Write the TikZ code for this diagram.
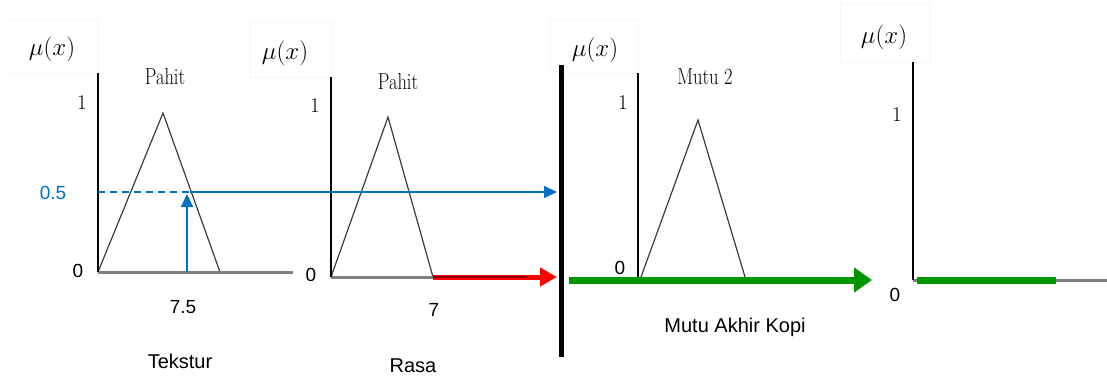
\documentclass[tikz,border=0pt]{standalone}
\usepackage{fontspec}
\setsansfont{Liberation Sans}
\usetikzlibrary{arrows.meta}
\definecolor{cblue}{RGB}{0,112,192}
\definecolor{cgreen}{RGB}{0,150,0}
\definecolor{cdred}{RGB}{150,0,0}
\definecolor{caxis}{RGB}{128,128,128}
\definecolor{ctri}{RGB}{60,60,60}
\begin{document}
\begin{tikzpicture}[x=1pt,y=-1pt,
  num/.style={inner sep=0pt,font=\fontsize{19}{19}\selectfont\sffamily},
  caplabel/.style={inner sep=0pt,font=\fontsize{20}{20}\selectfont\sffamily},
  one/.style={inner sep=0pt,font=\fontsize{21}{21}\selectfont},
  term/.style={inner sep=0pt,font=\fontsize{18.5}{18.5}\selectfont},
  mu/.style={inner sep=0pt,font=\fontsize{24}{24}\selectfont},
  mubox/.style={draw=black!4,line width=0.8pt},
  yax/.style={draw=black,line width=1.3pt},
  xax/.style={draw=caxis,line width=3pt},
  tri/.style={draw=ctri,line width=1.2pt,line join=miter},
  bline/.style={draw=cblue,line width=1.8pt},
  barrow/.style={bline,-{Triangle[length=13pt,width=12pt]}},
  rarrow/.style={draw=red,line width=5pt,-{Triangle[length=17pt,width=18pt]}},
  garrow/.style={draw=cgreen,line width=7pt,-{Triangle[length=18pt,width=24pt]}},
  gline/.style={draw=cgreen,line width=7pt},
]
\useasboundingbox (0,0) rectangle (1107,378);

% mu(x) boxes
\draw[mubox] (10,20) -- (98,20) -- (98,73) -- (10,73);
\draw[mubox] (250,22) -- (331,22) -- (331,77) -- (250,77) -- cycle;
\draw[mubox] (550,20) -- (638,20) -- (638,73) -- (550,73) -- cycle;
\draw[mubox] (840,3) -- (930,3) -- (930,62) -- (840,62) -- cycle;
\node[mu] (mu1) at (52,49) {$\mu(x)$};
\node[mu] (mu2) at (285,53) {$\mu(x)$};
\node[mu] (mu3) at (595,50) {$\mu(x)$};
\node[mu] (mu4) at (884,37) {$\mu(x)$};

% ---------- panel 1 ----------
\coordinate (o1) at (98,272);
\coordinate (t1) at (98,73);
\coordinate (e1) at (293,272);
\coordinate (p1) at (163,113);
\coordinate (r1) at (220,272);
\draw[tri] (o1) -- (p1) -- (r1);
\draw[xax] (o1) -- (e1);
\draw[yax] (t1) -- (o1);
\node[term] (pahit1) at (165,77) {\scalebox{1}[1.25]{Pahit}};
\node[one] (one1) at (82,103) {1};
\node[num] (zero1) at (78,271) {0};
\node[num,text=cblue] (half) at (53,193) {0.5};
\node[num] (v75) at (183,307) {7.5};
\node[caplabel] (tekstur) at (180,361) {Tekstur};

% ---------- panel 2 ----------
\coordinate (o2) at (331,277);
\coordinate (t2) at (331,77);
\coordinate (p2) at (388,117);
\coordinate (r2) at (433,277);
\draw[tri] (o2) -- (p2) -- (r2);
\draw[xax] (o2) -- (r2);
\draw[yax] (t2) -- (o2);
\node[term] (pahit2) at (398,82) {\scalebox{1}[1.25]{Pahit}};
\node[one] (one2) at (315,106) {1};
\node[num] (zero2) at (311,275) {0};
\node[num] (v7) at (434,310) {7};
\node[caplabel] (rasa) at (413,366) {Rasa};

% blue construction
\coordinate (h1) at (98,192);
\coordinate (d1) at (190,192);
\coordinate (bt) at (557,192);
\coordinate (v0) at (187,272);
\coordinate (v1) at (187,194);
\draw[bline,dash pattern=on 7pt off 5pt] (h1) -- (d1);
\draw[barrow] (d1) -- (bt);
\draw[barrow] (v0) -- (v1);

% red arrow
\coordinate (rt) at (557,277);
\coordinate (rd) at (527,277);
\draw[rarrow] (r2) -- (rt);
\draw[draw=cdred,line width=2.8pt] (r2) -- (rd);

% black bar
\coordinate (bar1) at (561,65);
\coordinate (bar2) at (561,357);
\draw[draw=black,line width=5pt] (bar1) -- (bar2);

% ---------- panel 3 ----------
\coordinate (o3) at (638,277);
\coordinate (t3) at (638,73);
\coordinate (l3) at (641,277);
\coordinate (p3) at (698,120);
\coordinate (r3) at (745,277);
\draw[yax] (t3) -- (o3);
\draw[tri] (l3) -- (p3) -- (r3);
\node[term] (mutu2) at (705,77) {\scalebox{1}[1.25]{Mutu 2}};
\node[one] (one3) at (623,103) {1};
\node[num] (zero3) at (620,268) {0};
\coordinate (g0) at (569,280);
\coordinate (g1) at (872,280);
\draw[garrow] (g0) -- (g1);
\node[caplabel] (akhir) at (735,327) {Mutu Akhir Kopi};

% ---------- panel 4 ----------
\coordinate (o4) at (913,280);
\coordinate (t4) at (913,62);
\coordinate (g2) at (917,280);
\coordinate (g3) at (1056,280);
\coordinate (e4) at (1107,280);
\draw[xax] (o4) -- (e4);
\draw[yax] (t4) -- (o4);
\draw[gline] (g2) -- (g3);
\node[one] (one4) at (897,115) {1};
\node[num] (zero4) at (895,295) {0};
\end{tikzpicture}
\end{document}
